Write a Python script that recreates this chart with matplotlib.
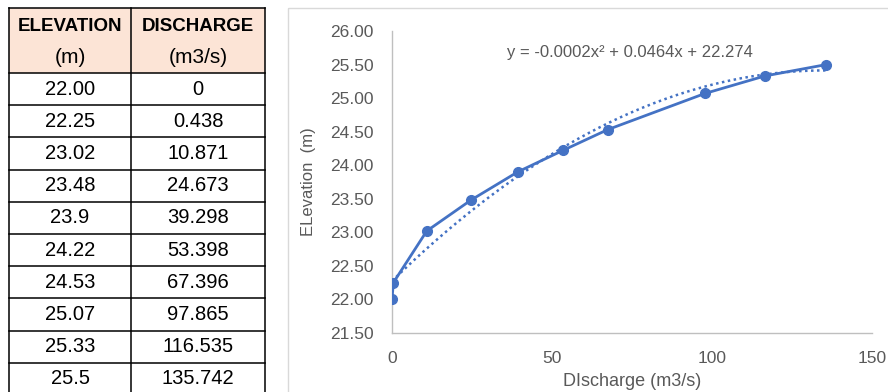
import matplotlib.pyplot as plt
import numpy as np
from matplotlib.patches import Rectangle

# table values as printed
elevation_txt = ["22.00", "22.25", "23.02", "23.48", "23.9",
                 "24.22", "24.53", "25.07", "25.33", "25.5"]
discharge_txt = ["0", "0.438", "10.871", "24.673", "39.298",
                 "53.398", "67.396", "97.865", "116.535", "135.742"]
headers = [("ELEVATION", "(m)"), ("DISCHARGE", "(m3/s)")]

elevation = [float(v) for v in elevation_txt]
discharge = [float(v) for v in discharge_txt]

y_ticks = [21.5, 22.0, 22.5, 23.0, 23.5, 24.0, 24.5, 25.0, 25.5, 26.0]
x_ticks = [0, 50, 100, 150]
eq_label = "y = -0.0002x\u00b2 + 0.0464x + 22.274"

blue = "#4472C4"
grey_txt = "#595959"

plt.rcParams['font.family'] = ['Liberation Sans', 'DejaVu Sans']
fig = plt.figure(figsize=(8.88, 3.92), dpi=100)

# background axes in pixel coords for the table and chart frame
bg = fig.add_axes([0, 0, 1, 1])
bg.set_xlim(0, 888)
bg.set_ylim(392, 0)
bg.axis('off')

col_x = [9, 131, 265]
head_top, head_bot = 8, 73
row_h = 32.2

bg.add_patch(Rectangle((col_x[0], head_top), col_x[2] - col_x[0], head_bot - head_top,
                       facecolor="#FCE4D6", edgecolor="none"))
for cx in col_x:
    bg.plot([cx, cx], [head_top, 400], color="black", lw=1.1)
bg.plot([col_x[0], col_x[2]], [head_top, head_top], color="black", lw=1.1)
for k in range(len(elevation_txt)):
    yy = head_bot + k * row_h
    bg.plot([col_x[0], col_x[2]], [yy, yy], color="black", lw=1.1)

for j, (h1, h2) in enumerate(headers):
    cx = (col_x[j] + col_x[j + 1]) / 2
    bg.text(cx, 26, h1, ha="center", va="center", fontsize=13.5, fontweight="bold")
    bg.text(cx, 57, h2, ha="center", va="center", fontsize=15)

for k in range(len(elevation_txt)):
    yy = head_bot + (k + 0.5) * row_h
    bg.text((col_x[0] + col_x[1]) / 2, yy, elevation_txt[k], ha="center", va="center", fontsize=14.5)
    bg.text((col_x[1] + col_x[2]) / 2, yy, discharge_txt[k], ha="center", va="center", fontsize=14.5)

# chart frame
bg.add_patch(Rectangle((288, 8), 640, 420, fill=False, edgecolor="#D9D9D9", lw=1))

# chart
ax = fig.add_axes([0.4414, 0.1505, 0.5405, 0.7704])
ax.set_facecolor("none")
ax.plot(discharge, elevation, color=blue, lw=2, marker="o", ms=7, zorder=3)

coef = np.polyfit(discharge, elevation, 2)
xs = np.linspace(0, max(discharge), 200)
ax.plot(xs, np.polyval(coef, xs), color=blue, lw=1.8, linestyle=(0, (1, 1.4)), zorder=2)

ax.text(0.496, 0.93, eq_label, transform=ax.transAxes, ha="center", va="center",
        fontsize=12, color=grey_txt)

ax.set_xlim(0, 150)
ax.set_ylim(21.5, 26.0)
ax.set_xticks(x_ticks)
ax.set_yticks(y_ticks)
ax.set_yticklabels([f"{v:.2f}" for v in y_ticks])
ax.tick_params(length=0, colors=grey_txt, labelsize=12.5)
ax.tick_params(axis='y', pad=13)
ax.tick_params(axis='x', pad=13)
for s in ["top", "right"]:
    ax.spines[s].set_visible(False)
for s in ["left", "bottom"]:
    ax.spines[s].set_color("#BFBFBF")
    ax.spines[s].set_linewidth(1)
ax.set_xlabel("DIscharge (m3/s)", color=grey_txt, fontsize=13, labelpad=5)
ax.set_ylabel("ELevation  (m)", color=grey_txt, fontsize=12, labelpad=10)

fig.savefig("out.png", dpi=100)
